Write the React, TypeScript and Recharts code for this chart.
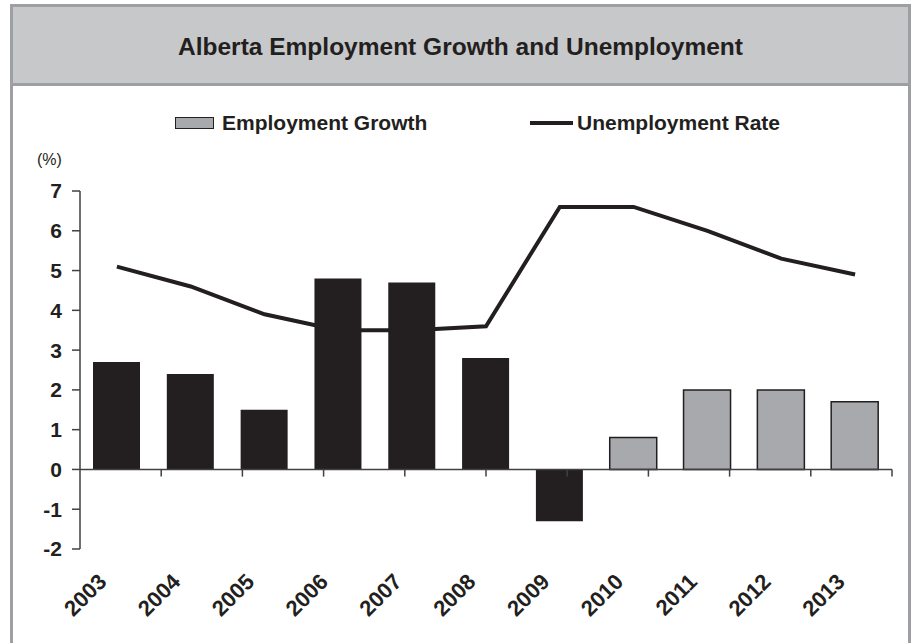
import React from 'react';
import {
  ComposedChart,
  Bar,
  Line,
  XAxis,
  YAxis,
  Cell,
  Legend,
  ReferenceLine,
} from 'recharts';

const years = ['2003', '2004', '2005', '2006', '2007', '2008', '2009', '2010', '2011', '2012', '2013'];
const employmentGrowth = [2.7, 2.4, 1.5, 4.8, 4.7, 2.8, -1.3, 0.8, 2.0, 2.0, 1.7];
const unemploymentRate = [5.1, 4.6, 3.9, 3.5, 3.5, 3.6, 6.6, 6.6, 6.0, 5.3, 4.9];
const forecastYears = ['2010', '2011', '2012', '2013'];
const yTicks = [-2, -1, 0, 1, 2, 3, 4, 5, 6, 7];
const boundaries = [1, 2, 3, 4, 5, 6, 7, 8, 9, 10, 11];

const data = years.map((y, i) => ({
  year: y,
  growth: employmentGrowth[i],
  rate: unemploymentRate[i],
}));

const FONT = '"Liberation Sans", Arial, sans-serif';
const DARK = '#231f20';
const GRAY_BAR = '#a7a9ac';
const FRAME = '#9d9fa2';

const XTick = (props: any) => {
  const { x, y, payload } = props;
  return (
    <g transform={`translate(${x - 9},${y + 34})`}>
      <text
        x={0}
        y={0}
        transform="rotate(-45)"
        textAnchor="end"
        fontFamily={FONT}
        fontWeight="bold"
        fontSize={22}
        fill={DARK}
      >
        {payload.value}
      </text>
    </g>
  );
};

const LegendContent = (props: any) => {
  const { payload } = props;
  return (
    <div style={{ position: 'relative', height: 30, fontFamily: FONT }}>
      {payload.map((entry: any, i: number) => {
        const isBar = entry.type === 'rect';
        const left = isBar ? 175 : 530;
        return (
          <div
            key={i}
            style={{
              position: 'absolute',
              left,
              top: 0,
              display: 'flex',
              alignItems: 'center',
              height: 30,
            }}
          >
            {isBar ? (
              <div
                style={{
                  width: 37,
                  height: 10,
                  background: GRAY_BAR,
                  border: `1.5px solid ${DARK}`,
                  marginRight: 8,
                }}
              />
            ) : (
              <div style={{ width: 43, height: 4, background: DARK, marginRight: 4 }} />
            )}
            <span style={{ fontWeight: 'bold', fontSize: 21, color: DARK }}>{entry.value}</span>
          </div>
        );
      })}
    </div>
  );
};

export default function App() {
  return (
    <div
      style={{
        position: 'absolute',
        left: 0,
        top: 0,
        width: 911,
        height: 643,
        background: '#ffffff',
        overflow: 'hidden',
      }}
    >
      <div
        style={{
          position: 'absolute',
          left: 10,
          top: 4,
          width: 895,
          height: 660,
          border: `3px solid ${FRAME}`,
          boxSizing: 'content-box',
        }}
      />
      <div
        style={{
          position: 'absolute',
          left: 13,
          top: 7,
          width: 895,
          height: 79,
          background: '#c7c8ca',
          borderBottom: `3px solid ${FRAME}`,
          display: 'flex',
          alignItems: 'center',
          justifyContent: 'center',
          fontFamily: FONT,
          fontWeight: 'bold',
          fontSize: 24.5,
          color: DARK,
          paddingTop: 4,
          boxSizing: 'border-box',
        }}
      >
        Alberta Employment Growth and Unemployment
      </div>
      <div
        style={{
          position: 'absolute',
          left: 37,
          top: 151,
          fontFamily: FONT,
          fontSize: 16,
          color: DARK,
        }}
      >
        (%)
      </div>
      <div style={{ position: 'absolute', left: 0, top: 0 }}>
        <ComposedChart
          width={911}
          height={643}
          data={data}
          margin={{ top: 161, right: 19, left: 0, bottom: 0 }}
        >
          <XAxis
            dataKey="year"
            xAxisId="cat"
            height={94}
            axisLine={false}
            tickLine={false}
            tickSize={0}
            tickMargin={0}
            interval={0}
            tick={<XTick />}
          />
          <XAxis xAxisId="num" type="number" domain={[0, 11]} hide allowDataOverflow />
          <YAxis
            width={80}
            domain={[-2, 7]}
            ticks={yTicks}
            interval={0}
            allowDataOverflow
            axisLine={{ stroke: '#414042', strokeWidth: 1.5 }}
            tickLine={{ stroke: '#414042', strokeWidth: 1.5 }}
            tickSize={8}
            tickMargin={10}
            tick={{ fontFamily: FONT, fontWeight: 'bold', fontSize: 21, fill: DARK }}
          />
          <Legend
            verticalAlign="top"
            align="left"
            wrapperStyle={{ position: 'absolute', top: 108, left: 0, width: 911 }}
            content={<LegendContent />}
          />
          <Bar
            dataKey="growth"
            name="Employment Growth"
            xAxisId="cat"
            fill={GRAY_BAR}
            barSize={47}
            isAnimationActive={false}
            legendType="rect"
          >
            {data.map((d, i) => {
              const forecast = forecastYears.includes(d.year);
              return (
                <Cell
                  key={i}
                  fill={forecast ? GRAY_BAR : DARK}
                  stroke={DARK}
                  strokeWidth={forecast ? 1.5 : 0}
                />
              );
            })}
          </Bar>
          <ReferenceLine xAxisId="cat" y={0} stroke="#414042" strokeWidth={1.5} />
          {boundaries.map((b) => (
            <ReferenceLine
              key={b}
              xAxisId="num"
              segment={[
                { x: b, y: 0 },
                { x: b, y: -0.18 },
              ]}
              stroke="#414042"
              strokeWidth={1.5}
            />
          ))}
          <Line
            dataKey="rate"
            name="Unemployment Rate"
            xAxisId="cat"
            type="linear"
            stroke={DARK}
            strokeWidth={4}
            dot={false}
            activeDot={false}
            isAnimationActive={false}
            legendType="line"
          />
        </ComposedChart>
      </div>
    </div>
  );
}
